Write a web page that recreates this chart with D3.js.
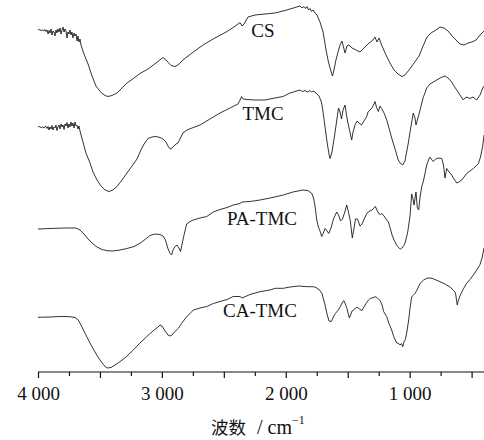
<!DOCTYPE html>
<html>
<head>
<meta charset="utf-8">
<script src="https://cdn.jsdelivr.net/npm/d3@7"></script>
<style>
  html, body { margin: 0; padding: 0; background: #fff; }
  svg { display: block; }
</style>
</head>
<body>
<svg id="chart" width="484" height="440"></svg>
<script>
// ---- Data (wavenumber cm^-1, transmittance in arbitrary units, curves offset) ----
const seriesNames = ["CS", "TMC", "PA-TMC", "CA-TMC"];

const csData = [[4000,342],[3990,342.5],[3976,341.5],[3964,342],[3952,341],[3944,342.5],[3935,340.5],[3927,342],[3919,338],[3911,341.5],[3903,339],[3895,343],[3887,337],[3879,341],[3871,340],[3863,336],[3855,342],[3847,339],[3839,343],[3831,340],[3822,344],[3814,338],[3806,342],[3798,345],[3790,340],[3782,343],[3774,341],[3766,334],[3758,340],[3750,338],[3742,342],[3734,337],[3726,340],[3718,334],[3709,339],[3701,336],[3693,338],[3685,331],[3677,336],[3669,330],[3661,333],[3653,327],[3629,318],[3596,308],[3564,296],[3532,286],[3491,279.5],[3459,276.5],[3435,275.5],[3403,276.5],[3362,279],[3322,284],[3282,289],[3225,294],[3177,298.5],[3112,303],[3048,309],[2991,314.5],[2959,311],[2926,306.5],[2894,305.5],[2870,307],[2830,312],[2757,319],[2668,327],[2579,333.5],[2474,340.5],[2402,346.5],[2369,349.5],[2353,346],[2337,348],[2305,355],[2248,357],[2168,358],[2087,359],[2006,361.5],[1925,364.5],[1885,366],[1869,364],[1853,365.5],[1841,363.5],[1829,365.5],[1816,362],[1804,363.5],[1792,360.5],[1780,362],[1764,359],[1748,357],[1724,350],[1699,340],[1675,322],[1659,312],[1643,304],[1623,296],[1611,302],[1595,312],[1578,320],[1562,327],[1546,331],[1534,325],[1522,319],[1506,326],[1490,327],[1465,324],[1433,322],[1401,320],[1377,323],[1352,326],[1328,329],[1304,331],[1280,335],[1264,330],[1247,334],[1223,326],[1191,317],[1159,309],[1126,302],[1094,298],[1062,295.5],[1038,297],[1005,302],[965,309],[924,316],[892,326],[860,335],[828,339],[787,342],[755,345],[723,344],[690,341],[658,336],[626,332],[594,328],[561,327],[529,329],[497,330],[464,332],[432,337],[400,341]];

const tmcData = [[4000,245],[3990,245.5],[3976,244.5],[3964,245],[3952,244],[3940,246],[3927,243.5],[3919,245.5],[3911,242],[3903,245],[3895,243],[3887,246.5],[3879,242],[3871,245],[3863,244],[3855,247],[3847,241.5],[3839,245],[3831,247],[3822,243],[3814,248],[3806,245],[3798,247],[3790,242.5],[3782,248],[3774,246],[3766,249.5],[3758,244],[3750,248],[3742,245],[3734,250],[3726,246],[3718,249],[3709,244],[3701,250],[3693,246],[3685,247],[3677,243],[3669,246],[3661,241],[3637,230],[3613,219],[3580,209],[3556,200],[3524,192],[3491,186],[3459,182],[3427,180.5],[3395,182],[3362,185.5],[3322,192],[3282,199],[3241,206],[3201,213],[3169,222],[3144,228],[3112,233.5],[3080,235],[3048,235.5],[3015,234.5],[2991,233],[2967,230],[2951,226],[2934,223],[2918,224],[2902,226],[2886,228],[2870,229],[2854,233],[2830,239],[2797,242],[2757,244],[2692,247],[2612,253],[2531,259],[2450,264],[2386,268],[2369,272],[2357,275.5],[2345,273],[2313,272.5],[2248,272],[2168,272],[2087,274],[2022,275.5],[1966,279],[1885,282],[1865,280.5],[1845,281.5],[1825,280],[1804,281.5],[1792,280],[1780,281],[1756,279],[1732,276],[1712,270],[1699,260],[1683,245],[1667,230],[1651,218],[1643,213.5],[1627,220],[1603,239],[1586,254],[1574,264],[1562,260],[1550,253],[1538,262],[1522,267],[1510,257],[1498,249],[1482,240],[1468,232],[1457,240],[1441,247],[1425,251],[1409,249],[1389,247],[1369,251],[1348,255],[1336,260],[1320,262],[1304,264],[1288,268],[1280,270.5],[1268,265],[1253,260.5],[1239,266],[1226,263.5],[1207,259],[1185,252],[1167,244],[1145,234],[1118,223],[1092,212],[1078,209],[1056,207],[1038,211],[1011,229],[997,240],[971,259],[957,254],[949,247],[933,254],[916,262],[892,274],[862,284],[836,288],[782,292],[747,294.5],[715,296],[690,294],[661,290],[642,286],[620,282],[594,277],[567,272],[545,275],[513,273.5],[489,275],[459,272],[432,277],[406,285],[400,286]];

const paData = [[4000,143],[3903,143.5],[3782,144],[3693,144],[3661,142],[3629,138],[3596,133],[3564,129],[3524,125],[3483,122.5],[3443,121.3],[3395,121],[3338,122],[3282,123.5],[3225,125.5],[3177,128.7],[3136,132.5],[3096,136.5],[3056,138],[3015,137.5],[2991,136],[2971,132],[2953,124],[2934,118.5],[2922,117],[2910,122],[2894,125.5],[2878,127],[2862,124],[2850,120.5],[2840,126],[2827,134],[2800,148],[2773,150.5],[2746,152],[2692,154],[2638,155.5],[2585,160],[2531,162.5],[2474,164.5],[2424,167],[2369,168.5],[2353,170],[2289,170.5],[2208,172],[2127,174],[2020,177],[1942,180],[1861,182],[1821,181.5],[1791,178.7],[1776,174],[1764,166],[1750,152],[1737,145],[1724,141],[1710,135.5],[1697,139],[1683,143.5],[1667,141],[1653,138.5],[1635,144],[1615,153],[1589,160],[1574,157],[1558,151],[1542,153],[1526,159],[1508,167],[1494,160],[1479,151],[1463,134],[1449,144],[1437,153],[1421,153],[1401,146],[1385,148],[1360,155],[1344,159],[1328,160.5],[1304,162],[1288,164],[1277,165.5],[1264,162],[1250,158.5],[1235,157.5],[1223,158.5],[1207,156],[1191,153],[1172,150],[1156,143.5],[1142,137],[1126,132],[1105,127],[1090,124.5],[1076,123],[1062,124],[1046,126.5],[1035,130],[1017,139],[997,156],[984,178],[973,173],[965,167],[949,180],[938,164],[927,162],[916,175],[903,185],[887,192],[862,207],[848,212],[836,215],[820,212],[809,210.5],[795,212.5],[782,213.5],[763,214],[741,213.5],[727,207],[715,194],[701,203.5],[682,200],[661,197],[642,193],[620,189],[602,190],[580,192],[561,195],[540,198.5],[513,201],[486,203.5],[464,206],[445,208.5],[428,215],[410,226],[400,237]];

const caData = [[4000,54.7],[3903,55],[3822,55.5],[3742,55.3],[3701,54.5],[3675,52],[3645,45],[3607,35.5],[3572,27],[3526,17],[3491,10.5],[3467,6.5],[3441,4],[3411,4.5],[3378,7],[3338,10.3],[3290,15],[3231,22],[3177,29],[3123,35.3],[3072,41],[3031,45],[3015,47],[2999,46],[2975,41],[2951,37],[2934,36],[2918,37],[2894,40.5],[2867,43.7],[2840,48.7],[2800,55.3],[2773,58.5],[2746,62],[2692,64],[2638,65.5],[2585,68.5],[2531,70.5],[2474,72.5],[2424,75.5],[2369,75.5],[2353,74],[2289,77.5],[2208,80.3],[2127,82],[2085,83.7],[2020,83.7],[1966,85],[1896,86],[1831,85.3],[1778,85.3],[1756,84.5],[1724,81.5],[1708,78.5],[1683,67],[1667,58],[1651,51],[1632,50.5],[1616,55],[1600,58.5],[1576,62],[1560,65.3],[1546,69],[1532,71.5],[1519,68],[1506,63.5],[1487,54],[1477,57],[1465,61],[1452,62],[1437,64],[1425,65],[1405,63],[1385,61.5],[1369,65],[1347,69.5],[1332,72],[1318,73.5],[1304,74],[1277,75.3],[1264,74.5],[1252,73],[1237,71],[1223,67],[1210,60.5],[1185,55.3],[1169,49],[1145,42],[1129,35.5],[1105,29],[1088,28.5],[1078,27],[1066,28.5],[1056,25.3],[1046,30],[1035,32.5],[1024,39],[1008,52],[997,64],[984,75],[973,76.5],[957,78.5],[941,82],[916,88.5],[887,92],[862,93.7],[844,94],[820,93.7],[787,92],[755,90.3],[715,88],[674,85],[645,81.5],[630,79],[616,67],[606,72],[591,77],[569,82.5],[540,88.7],[513,92.5],[486,97],[464,101],[432,107.5],[416,114],[400,124]];

const seriesData = [csData, tmcData, paData, caData];
// label anchor positions in data space (wavenumber, value)
const labelWn = [2184, 2184, 2192, 2208];
const labelVal = [335, 252, 147, 55];

const majorTicks = [4000, 3500, 3000, 2500, 2000, 1500, 1000, 500];
const minorTicks = [3750, 3250, 2750, 2250, 1750, 1250, 750];
const labeledTicks = [4000, 3000, 2000, 1000];
const xTitleMain = "波数";
const xTitleUnit = "/ cm";
const xTitleSup = "−1";

// ---- Layout ----
const svg = d3.select("#chart");
const left = 38, right = 484, axisY = 372;
const serif = "'Liberation Serif', 'Times New Roman', serif";

const x = d3.scaleLinear().domain([4000, 400]).range([left, right]);
const y = d3.scaleLinear().domain([0, 372]).range([axisY, 0]);

const line = d3.line().x(d => x(d[0])).y(d => y(d[1]));

svg.append("g").selectAll("path")
  .data(seriesData)
  .join("path")
  .attr("d", line)
  .attr("fill", "none")
  .attr("stroke", "#1c1c1c")
  .attr("stroke-width", 0.9)
  .attr("stroke-linejoin", "round");

svg.append("g").selectAll("text")
  .data(seriesNames)
  .join("text")
  .attr("x", (d, i) => x(labelWn[i]))
  .attr("y", (d, i) => y(labelVal[i]))
  .attr("text-anchor", "middle")
  .attr("font-family", serif)
  .attr("font-size", 19)
  .attr("fill", "#111")
  .text(d => d);

// ---- Axis ----
const fmt = d3.formatLocale({decimal: ".", thousands: " ", grouping: [3], currency: ["", ""]}).format(",");
const axisMajor = d3.axisBottom(x).tickValues(majorTicks).tickSize(6)
  .tickFormat(d => labeledTicks.includes(d) ? fmt(d) : "");
const gAxis = svg.append("g").attr("transform", `translate(0,${axisY})`).call(axisMajor);
gAxis.select(".domain").attr("d", `M${left},0H${right}`).attr("stroke", "#111").attr("stroke-width", 1.2);
gAxis.selectAll(".tick line").attr("stroke", "#111").attr("stroke-width", 1.2);
gAxis.selectAll(".tick text").attr("font-family", serif).attr("font-size", 19).attr("fill", "#111").attr("dy", "1.0em").attr("y", 9);

const axisMinor = d3.axisBottom(x).tickValues(minorTicks).tickSize(4).tickFormat("");
const gMinor = svg.append("g").attr("transform", `translate(0,${axisY})`).call(axisMinor);
gMinor.select(".domain").remove();
gMinor.selectAll(".tick line").attr("stroke", "#111").attr("stroke-width", 1.2);

// axis title
svg.append("text")
  .attr("x", 211).attr("y", 434)
  .attr("font-family", "'Noto Sans CJK SC', sans-serif")
  .attr("font-size", 17.5)
  .attr("fill", "#111")
  .text(xTitleMain);
const unit = svg.append("text")
  .attr("x", 257).attr("y", 434)
  .attr("font-family", serif)
  .attr("font-size", 20)
  .attr("fill", "#111");
unit.append("tspan").text(xTitleUnit);
unit.append("tspan").attr("dy", -10).attr("font-size", 12).text(xTitleSup);
</script>
</body>
</html>
